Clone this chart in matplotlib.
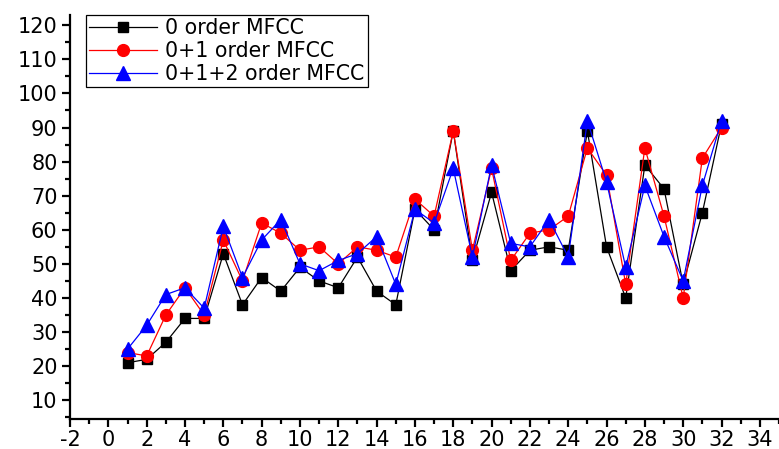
import matplotlib
matplotlib.use("Agg")
import matplotlib.pyplot as plt
from matplotlib.ticker import MultipleLocator

plt.rcParams["font.family"] = ["DejaVu Sans"]
plt.rcParams["font.size"] = 15
plt.rcParams["axes.unicode_minus"] = False

x = list(range(1, 33))

order0 = [21, 22, 27, 34, 34, 53, 38, 46, 42, 49, 45, 43, 52, 42, 38, 66,
          60, 89, 51, 71, 48, 54, 55, 54, 89, 55, 40, 79, 72, 44, 65, 91]
order01 = [24, 23, 35, 43, 35, 57, 45, 62, 59, 54, 55, 50, 55, 54, 52, 69,
           64, 89, 54, 78, 51, 59, 60, 64, 84, 76, 44, 84, 64, 40, 81, 90]
order012 = [25, 32, 41, 43, 37, 61, 46, 57, 63, 50, 48, 51, 53, 58, 44, 66,
            62, 78, 52, 79, 56, 55, 63, 52, 92, 74, 49, 73, 58, 45, 73, 92]

labels = ["0 order MFCC", "0+1 order MFCC", "0+1+2 order MFCC"]

fig = plt.figure(figsize=(7.79, 4.49), dpi=100)
ax = fig.add_axes([0.0899, 0.0668, 0.9101, 0.8998])

ax.plot(x, order0, color="black", lw=0.9, marker="s", ms=7.5, label=labels[0])
ax.plot(x, order01, color="red", lw=0.9, marker="o", ms=8.5, label=labels[1])
ax.plot(x, order012, color="blue", lw=0.9, marker="^", ms=9.5, label=labels[2])

ax.set_xlim(-2, 35)
ax.set_ylim(4.5, 123)
ax.xaxis.set_major_locator(MultipleLocator(2))
ax.xaxis.set_minor_locator(MultipleLocator(1))
ax.yaxis.set_minor_locator(MultipleLocator(5))
ax.set_yticks(range(10, 121, 10))

for s in ["top", "right"]:
    ax.spines[s].set_visible(False)
for s in ["left", "bottom"]:
    ax.spines[s].set_linewidth(1.6)

ax.tick_params(which="major", direction="out", length=6, width=1.6, pad=2)
ax.tick_params(which="minor", direction="out", length=3.5, width=1.6)
ax.tick_params(axis="y", pad=3)

leg = ax.legend(loc="upper left", bbox_to_anchor=(0.0226, 1.0), borderaxespad=0,
                fancybox=False, edgecolor="black", framealpha=1,
                handlelength=3.3, handletextpad=0.4, labelspacing=0.15,
                borderpad=0.15, prop={"size": 14.8})
leg.get_frame().set_linewidth(0.9)

fig.savefig("out.png", dpi=100)
